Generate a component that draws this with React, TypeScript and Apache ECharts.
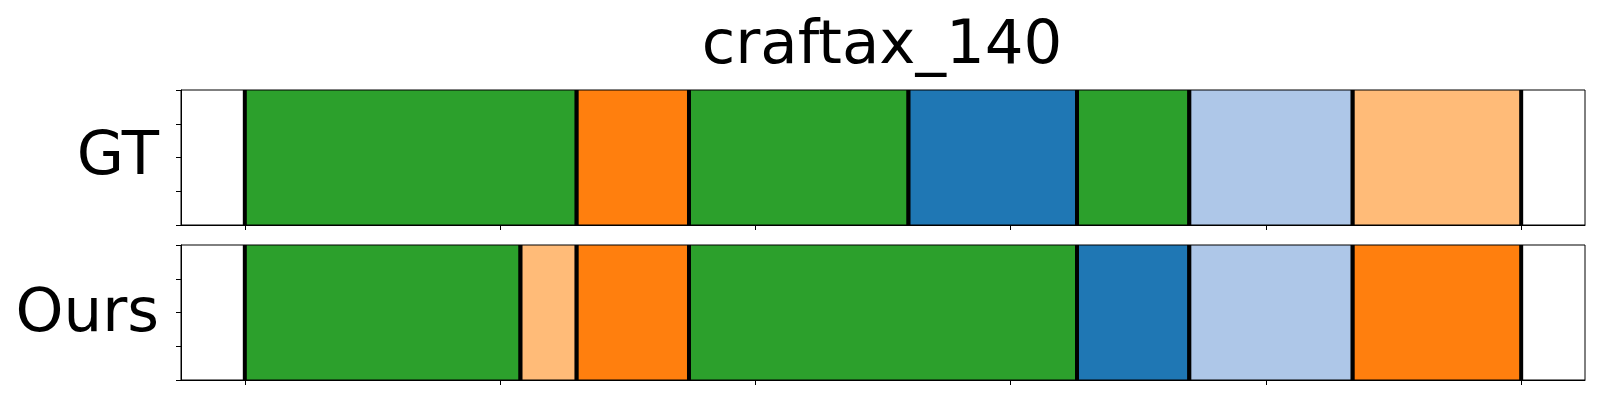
import React, { useEffect, useRef } from "react";
import * as echarts from "echarts";

// tab20 palette entries used: 0 blue, 1 light blue, 2 orange, 3 light orange, 4 green
const palette = ["#1f77b4", "#aec7e8", "#ff7f0e", "#ffbb78", "#2ca02c"];

const chartTitle = "craftax_140";
const rowLabels = ["GT", "Ours"];

const gtStarts = [0, 65, 87, 130, 163, 185, 217];
const gtEnds = [65, 87, 130, 163, 185, 217, 250];
const gtClasses = [4, 2, 4, 0, 4, 1, 3];

const oursStarts = [0, 54, 65, 87, 163, 185, 217];
const oursEnds = [54, 65, 87, 163, 185, 217, 250];
const oursClasses = [4, 3, 2, 4, 0, 1, 2];

const xTicks = [0, 50, 100, 150, 200, 250];
const yTicks = [0, 0.25, 0.5, 0.75, 1];
const xMin = -12.5;
const xMax = 262.5;

function buildData(starts: number[], ends: number[], classes: number[]) {
  return starts.map((s, i) => [s, ends[i], classes[i]]);
}

const renderItem = (params: any, api: any) => {
  const s = api.value(0);
  const e = api.value(1);
  const c = api.value(2);
  const p0 = api.coord([s, 1]);
  const p1 = api.coord([e, 0]);
  const lw = 4;
  return {
    type: "group",
    children: [
      {
        type: "rect",
        shape: { x: p0[0], y: p0[1], width: p1[0] - p0[0], height: p1[1] - p0[1] },
        style: { fill: palette[c] },
      },
      {
        type: "line",
        shape: { x1: p0[0], y1: p0[1], x2: p0[0], y2: p1[1] },
        style: { stroke: "#000", lineWidth: lw },
      },
      {
        type: "line",
        shape: { x1: p1[0], y1: p0[1], x2: p1[0], y2: p1[1] },
        style: { stroke: "#000", lineWidth: lw },
      },
    ],
  };
};

export default function App() {
  const ref = useRef<HTMLDivElement>(null);
  useEffect(() => {
    document.body.style.margin = "0";
    if (!ref.current) return;
    const chart = echarts.init(ref.current, undefined, { renderer: "svg" });
    const grids = [
      { left: 181, right: 15, top: 90, height: 135 },
      { left: 181, right: 15, top: 245, height: 135 },
    ].map((g) => ({
      ...g,
      show: true,
      borderColor: "#000",
      borderWidth: 1,
      backgroundColor: "transparent",
      z: 5,
    }));
    const xAxes = [0, 1].map((i) => ({
      type: "value",
      gridIndex: i,
      min: xMin,
      max: xMax,
      z: 5,
      axisLine: { show: true, onZero: false, lineStyle: { color: "#000", width: 1 } },
      axisTick: {
        show: true,
        length: 5,
        customValues: xTicks,
        lineStyle: { color: "#000", width: 1 },
      },
      axisLabel: { show: false },
      splitLine: { show: false },
    }));
    const yAxes = [0, 1].map((i) => ({
      type: "value",
      gridIndex: i,
      min: 0,
      max: 1,
      interval: 0.25,
      z: 5,
      position: "left",
      axisLine: { show: true, onZero: false, lineStyle: { color: "#000", width: 1 } },
      axisTick: {
        show: true,
        length: 5,
        customValues: yTicks,
        lineStyle: { color: "#000", width: 1 },
      },
      axisLabel: { show: false },
      splitLine: { show: false },
    }));
    const font = "DejaVu Sans";
    chart.setOption({
      animation: false,
      grid: grids,
      xAxis: xAxes,
      yAxis: yAxes,
      series: [
        {
          type: "custom",
          xAxisIndex: 0,
          yAxisIndex: 0,
          renderItem,
          encode: { x: [0, 1] },
          data: buildData(gtStarts, gtEnds, gtClasses),
          z: 2,
        },
        {
          type: "custom",
          xAxisIndex: 1,
          yAxisIndex: 1,
          renderItem,
          encode: { x: [0, 1] },
          data: buildData(oursStarts, oursEnds, oursClasses),
          z: 2,
        },
      ],
      graphic: [
        {
          type: "text",
          x: 882,
          y: 41.5,
          style: {
            text: chartTitle,
            align: "center",
            verticalAlign: "middle",
            font: `61px "${font}"`,
            fill: "#000",
          },
        },
        {
          type: "text",
          x: 159,
          y: 152.5,
          style: {
            text: rowLabels[0],
            align: "right",
            verticalAlign: "middle",
            font: `61px "${font}"`,
            fill: "#000",
          },
        },
        {
          type: "text",
          x: 159,
          y: 309.5,
          style: {
            text: rowLabels[1],
            align: "right",
            verticalAlign: "middle",
            font: `61px "${font}"`,
            fill: "#000",
          },
        },
      ],
    });
    return () => chart.dispose();
  }, []);
  return <div ref={ref} style={{ width: 1600, height: 400 }} />;
}
